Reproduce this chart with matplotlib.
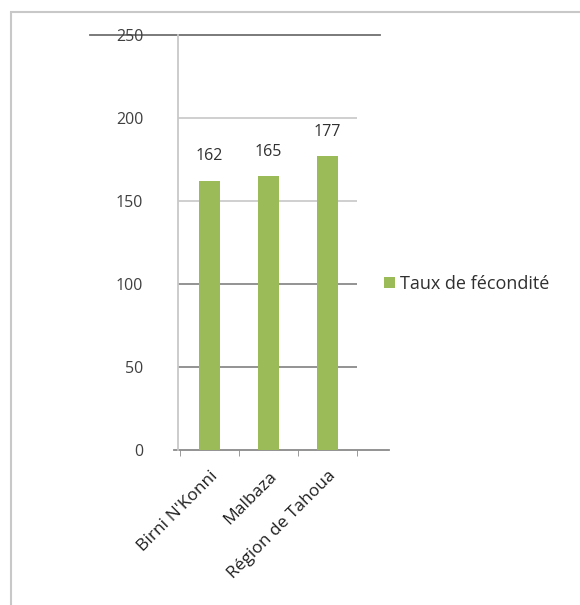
import matplotlib.pyplot as plt
from matplotlib.patches import Rectangle

# data
categories = ["Birni N'Konni", "Malbaza", "Région de Tahoua"]
values = [162, 165, 177]
series_name = "Taux de fécondité"
y_ticks = [0, 50, 100, 150, 200, 250]

plt.rcParams['font.family'] = ['Open Sans', 'DejaVu Sans']

fig = plt.figure(figsize=(5.8, 6.05), dpi=100)
W, H = 580, 605

# outer chart border
fig.patches.append(Rectangle((11 / W, -0.01), 1.0, 1 - 12 / H + 0.01,
                             transform=fig.transFigure, fill=False,
                             edgecolor='#c8c8c8', linewidth=1.5))

ax = fig.add_axes([178 / W, 1 - 450 / H, (357 - 178) / W, (450 - 35) / H])
green = '#9bbb59'

x = list(range(len(categories)))
bars = ax.bar(x, values, width=0.35, color=green, zorder=3, label=series_name)

ax.set_xlim(-0.533, 2.45)
ax.set_ylim(0, 250)

# gridlines
for v in y_ticks[1:-1]:
    c = '#cccccc' if v >= 150 else '#8a8a8a'
    ax.axhline(v, color=c, linewidth=1.3, zorder=1)
# top line sticks out on both sides
ax.axhline(250, xmin=-0.49, xmax=1.13, color='#707070', linewidth=1.3,
           clip_on=False, zorder=1)
# x axis line
ax.plot([-0.02, 1.18], [0, 0], transform=ax.transAxes, color='#8a8a8a',
        linewidth=1.3, clip_on=False, zorder=2)

for s in ['top', 'right', 'bottom']:
    ax.spines[s].set_visible(False)
ax.spines['left'].set_color('#c8c8c8')
ax.spines['left'].set_linewidth(1.3)

ax.set_yticks(y_ticks)
ax.set_yticklabels([str(v) for v in y_ticks], fontsize=11.5, color='#404040')
ax.tick_params(axis='y', length=0, pad=25)

ax.set_xticks(x)
ax.set_xticklabels(categories, rotation=45, ha='right', rotation_mode='anchor',
                   fontsize=12.5, color='#202020')
ax.tick_params(axis='x', length=0, pad=13)
ax.set_xticks([-0.5, 0.5, 1.5, 2.5], minor=True)
ax.tick_params(axis='x', which='minor', length=4, color='#8a8a8a', direction='out')

# data labels
for b, v in zip(bars, values):
    ax.text(b.get_x() + b.get_width() / 2, v + 10, str(v), ha='center',
            va='bottom', fontsize=11.5, color='#303030')

fig.legend(handles=[bars], labels=[series_name], loc='center left',
           bbox_to_anchor=(368 / W, 1 - 284 / H), frameon=False, fontsize=13,
           handlelength=0.6, handleheight=0.6, handletextpad=0.25,
           labelcolor='#303030')

fig.savefig('out.png', dpi=100)
